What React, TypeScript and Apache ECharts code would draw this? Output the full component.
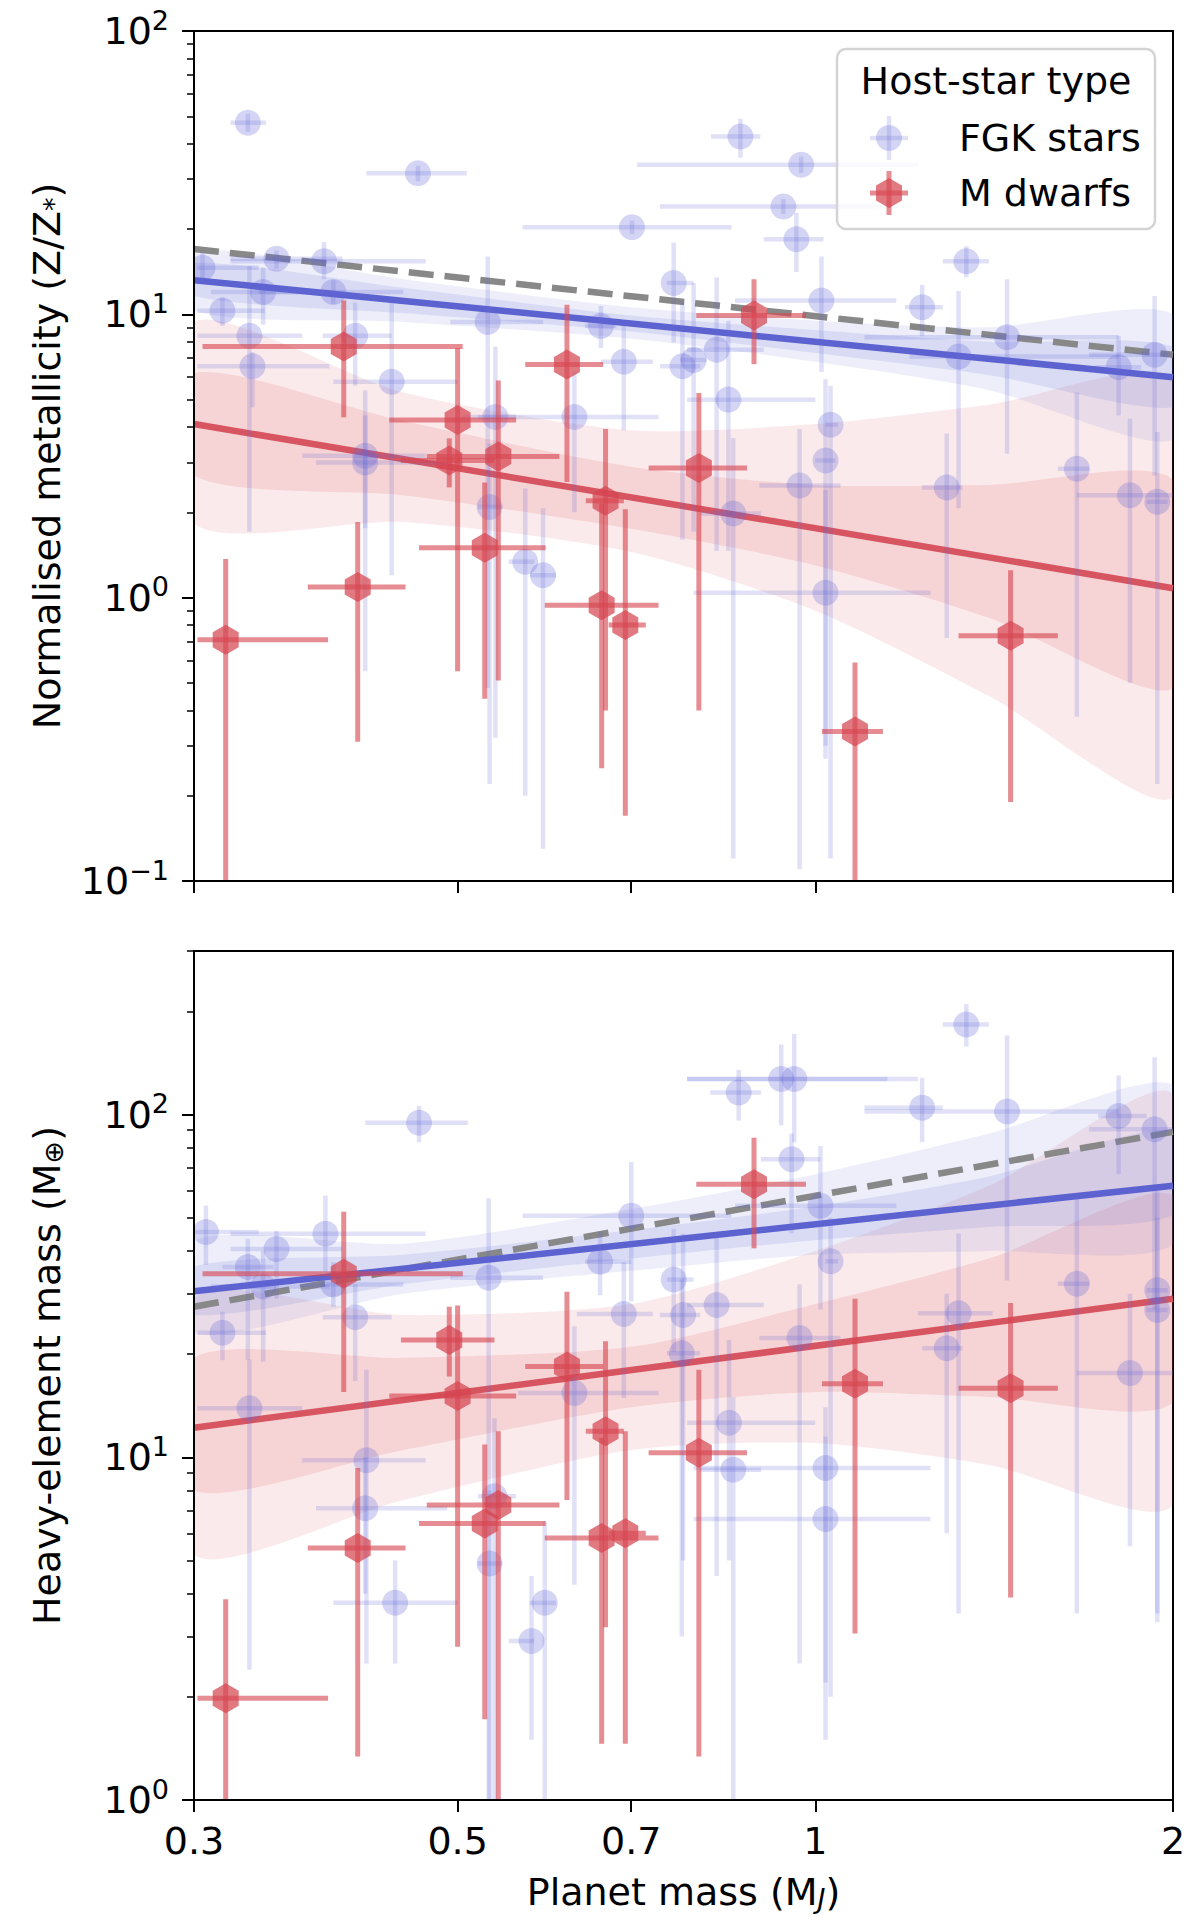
import React, { useEffect, useRef } from "react";
import * as echarts from "echarts";

const FONT = "DejaVu Sans";
const lg = (v: number) => Math.log10(v);

// axis ranges and ticks
const massRange = [0.3, 2];
const topRange = [0.1, 100];
const bottomRange = [1, 300];
const massTicks = [0.3, 0.5, 0.7, 1, 2];
const topDecades = [-1, 0, 1, 2];
const bottomDecades = [0, 1, 2];
const minorSteps = [2, 3, 4, 5, 6, 7, 8, 9];

// fitted power laws: values at mass 0.3 and mass 2
const fitMass = [0.3, 2];
const topFgkFit = [13.2, 6.0];
const topMdFit = [4.1, 1.08];
const topAllFit = [17, 7.2];
const bottomFgkFit = [30.5, 62];
const bottomMdFit = [12.2, 29];
const bottomAllFit = [27.5, 89];

// confidence bands
const bandMass = [0.3, 0.45, 0.7, 1.0, 1.4, 2.0];
const topFgkInnerLo = [11.6, 10.1, 8.7, 7.3, 6.1, 4.7];
const topFgkInnerHi = [15.2, 12.4, 9.9, 8.8, 8.0, 7.7];
const topFgkOuterLo = [10.3, 9.4, 8.2, 6.8, 5.4, 3.6];
const topFgkOuterHi = [16.8, 13.3, 10.6, 9.5, 9.0, 10.0];
const topMdInnerLo = [2.7, 2.3, 1.75, 1.3, 0.85, 0.48];
const topMdInnerHi = [6.2, 4.2, 2.9, 2.5, 2.5, 2.6];
const topMdOuterLo = [1.83, 1.85, 1.45, 0.9, 0.45, 0.2];
const topMdOuterHi = [9.4, 5.3, 3.9, 4.1, 4.8, 5.8];
const bottomFgkInnerLo = [26, 32, 38, 43, 47, 51];
const bottomFgkInnerHi = [36, 39, 46, 54, 66, 90];
const bottomFgkOuterLo = [23, 30, 35, 39, 40, 42];
const bottomFgkOuterHi = [43, 42, 53, 67, 88, 122];
const bottomMdInnerLo = [8, 10.5, 14, 15.5, 15, 14.5];
const bottomMdInnerHi = [19.5, 19.5, 21, 28, 38, 58];
const bottomMdOuterLo = [5.2, 7.5, 10.5, 11, 9.5, 7.3];
const bottomMdOuterHi = [29, 26, 28, 40, 62, 114];

// M dwarf planets: mass with error-bar ends
const mdMass = [0.319, 0.401, 0.412, 0.492, 0.5, 0.527, 0.541, 0.618, 0.661, 0.666, 0.692, 0.798, 0.888, 1.08, 1.46];
const mdMassLo = [0.302, 0.305, 0.374, 0.448, 0.438, 0.464, 0.471, 0.57, 0.592, 0.641, 0.67, 0.724, 0.794, 1.013, 1.32];
const mdMassHi = [0.389, 0.505, 0.452, 0.537, 0.56, 0.593, 0.609, 0.663, 0.738, 0.69, 0.72, 0.876, 0.982, 1.14, 1.6];
const mdZ = [0.71, 7.7, 1.09, 3.05, 4.24, 1.5, 3.15, 6.65, 0.94, 2.2, 0.8, 2.87, 9.9, 0.337, 0.734];
const mdZLo = [0.08, 4.33, 0.31, 2.45, 0.55, 0.44, 0.51, 2.56, 0.25, 0.4, 0.17, 0.4, 6.67, 0.08, 0.19];
const mdZHi = [1.37, 11.2, 1.85, 3.65, 7.6, 2.55, 5.84, 10.8, 2.15, 3.94, 2.05, 5.28, 13.3, 0.59, 1.25];
const mdMz = [1.98, 34.3, 5.44, 22.0, 15.1, 6.41, 7.26, 18.4, 5.81, 11.9, 6.0, 10.3, 62.6, 16.4, 15.9];
const mdMzLo = [0.8, 15.5, 1.34, 17.2, 2.8, 1.72, 0.9, 7.5, 1.46, 3.19, 1.46, 1.34, 40.7, 3.06, 3.9];
const mdMzHi = [3.85, 52, 9.3, 27.5, 27.7, 10.9, 11.9, 30.4, 11.4, 21.8, 11.9, 18, 85.6, 29, 28.2];

// FGK planets: [mass, massLo, massHi, value, valueLo, valueHi]
const fgkTop = [
  [0.333, 0.322, 0.345, 47.4, 44, 51],
  [0.463, 0.419, 0.509, 31.5, 29.5, 33.5],
  [0.865, 0.817, 0.899, 42.4, 35.7, 49],
  [0.973, 0.708, 1.22, 33.7, 31.5, 36],
  [0.701, 0.567, 0.85, 20.3, 19.2, 21.4],
  [0.94, 0.74, 1.17, 24, 22.6, 25.5],
  [0.964, 0.905, 1.016, 18.4, 14.1, 22.8],
  [1.34, 1.28, 1.4, 15.4, 13.5, 17.4],
  [0.305, 0.302, 0.34, 14.6, 13, 16.5],
  [0.352, 0.322, 0.4, 15.7, 14.5, 16.8],
  [0.386, 0.322, 0.47, 15.4, 13.3, 18],
  [0.343, 0.31, 0.39, 12.0, 9.2, 14.6],
  [0.393, 0.34, 0.45, 12.0, 10.9, 13.2],
  [0.317, 0.302, 0.344, 10.3, 9.1, 11.5],
  [0.334, 0.302, 0.37, 8.4, 1.71, 14.8],
  [0.336, 0.302, 0.39, 6.56, 4.7, 7.35],
  [0.41, 0.385, 0.44, 8.4, 5.6, 11],
  [0.44, 0.393, 0.5, 5.78, 1.2, 11.1],
  [0.418, 0.37, 0.47, 3.17, 0.55, 5.4],
  [0.418, 0.38, 0.49, 3.0, 1.76, 4.4],
  [0.53, 0.493, 0.59, 9.4, 0.48, 16],
  [0.538, 0.52, 0.56, 4.34, 0.32, 7.7],
  [0.532, 0.52, 0.545, 2.09, 0.22, 3.5],
  [0.627, 0.505, 0.738, 4.34, 2.0, 6.3],
  [0.57, 0.552, 0.58, 1.34, 0.2, 2.43],
  [0.59, 0.575, 0.605, 1.2, 0.13, 2.07],
  [0.66, 0.64, 0.68, 9.1, 7.6, 10.7],
  [0.69, 0.66, 0.73, 6.8, 3.9, 9.1],
  [0.76, 0.75, 0.79, 12.9, 7.95, 17.9],
  [0.773, 0.74, 0.8, 6.56, 1.6, 11.1],
  [0.79, 0.77, 0.81, 6.9, 1.71, 12.9],
  [0.826, 0.78, 0.905, 7.5, 1.46, 13.5],
  [0.845, 0.78, 1.0, 5.0, 1.46, 9.5],
  [0.853, 0.8, 0.9, 1.98, 0.12, 3.66],
  [1.012, 0.856, 1.17, 11.2, 6.26, 16],
  [1.03, 1.02, 1.045, 4.08, 0.12, 5.6],
  [1.02, 1.0, 1.04, 3.05, 0.3, 5.9],
  [0.97, 0.897, 1.05, 2.49, 0.11, 3.94],
  [1.02, 0.79, 1.25, 1.04, 0.27, 2.4],
  [1.23, 1.19, 1.28, 10.6, 8.4, 12.7],
  [1.32, 1.2, 1.8, 7.1, 2.07, 12.1],
  [1.29, 1.23, 1.33, 2.45, 0.72, 3.8],
  [1.45, 1.1, 1.8, 8.3, 3.22, 13.3],
  [1.66, 1.6, 1.7, 2.85, 0.38, 5.3],
  [1.8, 1.72, 1.88, 6.5, 4.4, 8.4],
  [1.84, 1.66, 2.0, 2.3, 0.5, 4.28],
  [1.93, 1.7, 2.0, 7.2, 2.7, 11.6],
  [1.94, 1.9, 1.98, 2.18, 0.22, 3.84],
];

const fgkBottom = [
  [1.34, 1.28, 1.4, 183, 158, 210],
  [0.862, 0.816, 0.9, 116, 96, 135],
  [0.936, 0.78, 1.15, 127, 93, 160],
  [0.96, 0.78, 1.22, 127, 83, 172],
  [1.23, 1.1, 1.28, 104.6, 83, 128],
  [1.45, 1.1, 1.8, 102, 32.8, 170],
  [1.8, 1.73, 1.9, 99, 67, 130],
  [1.93, 1.7, 2.0, 90.6, 27, 147],
  [0.464, 0.418, 0.51, 94.6, 83, 106],
  [0.955, 0.9, 1.01, 74, 45, 88],
  [1.01, 0.856, 1.17, 54.2, 27, 81],
  [0.7, 0.567, 0.85, 50.7, 28.5, 72.7],
  [0.307, 0.3, 0.34, 45.4, 36.4, 54.2],
  [0.387, 0.322, 0.47, 44.9, 34.8, 58],
  [0.352, 0.322, 0.4, 40.5, 29, 45.8],
  [0.333, 0.317, 0.35, 35.9, 19.2, 43.4],
  [0.343, 0.31, 0.39, 31.5, 19, 40],
  [0.393, 0.368, 0.45, 31.9, 27.5, 37.1],
  [0.531, 0.493, 0.59, 33.4, 1.0, 57],
  [0.659, 0.64, 0.7, 37.2, 29.7, 45.5],
  [1.03, 1.02, 1.045, 37.3, 2, 50],
  [0.76, 0.75, 0.79, 33, 20.3, 46.4],
  [1.66, 1.6, 1.7, 32.1, 3.5, 58],
  [0.317, 0.302, 0.345, 23.1, 19.2, 26.6],
  [0.41, 0.385, 0.44, 25.6, 16.7, 32],
  [0.69, 0.63, 0.73, 26.2, 14.9, 37.1],
  [0.774, 0.74, 0.8, 26.0, 5, 45],
  [0.826, 0.78, 0.905, 27.8, 4.5, 45],
  [0.772, 0.75, 0.8, 20.1, 3, 33],
  [0.97, 0.897, 1.05, 22.3, 2.5, 32],
  [1.29, 1.23, 1.33, 20.8, 6, 30],
  [1.32, 1.22, 1.41, 26.3, 3.5, 45],
  [1.94, 1.9, 1.98, 30.7, 3.5, 60],
  [1.94, 1.9, 1.98, 26.9, 3.3, 50],
  [1.84, 1.66, 2.0, 17.6, 5.5, 30],
  [0.334, 0.302, 0.37, 13.9, 2.4, 19.3],
  [0.627, 0.562, 0.738, 15.4, 4.25, 24.1],
  [0.846, 0.78, 1.0, 12.6, 5, 22],
  [0.853, 0.8, 0.9, 9.2, 1.0, 15],
  [1.02, 0.79, 1.25, 9.3, 2.2, 14],
  [1.02, 0.79, 1.25, 6.6, 1.5, 11.5],
  [0.419, 0.37, 0.47, 9.8, 2.5, 18],
  [0.418, 0.38, 0.49, 7.1, 4, 10],
  [0.537, 0.52, 0.56, 7.7, 1.0, 13],
  [0.532, 0.52, 0.545, 4.9, 1.0, 8],
  [0.443, 0.393, 0.5, 3.76, 2.5, 5],
  [0.592, 0.575, 0.605, 3.76, 1.0, 6.5],
  [0.577, 0.552, 0.58, 2.91, 1.5, 4.5],
];

const FGK_FILL = "rgba(100,105,215,0.28)";
const FGK_BAR = "rgba(100,105,215,0.2)";
const MD_FILL = "rgba(214,69,80,0.72)";
const MD_BAR = "rgba(214,69,80,0.62)";
const BLUE = "#5c62cf";
const RED = "#d65560";
const GREY = "#888888";

const hexPoints = (cx: number, cy: number, r: number) =>
  [0, 1, 2, 3, 4, 5].map((k) => {
    const a = ((-90 + 60 * k) * Math.PI) / 180;
    return [cx + r * Math.cos(a), cy + r * Math.sin(a)];
  });

const bandSeries = (lo: number[], hi: number[], xi: number, yi: number, fill: string) => ({
  type: "custom",
  xAxisIndex: xi,
  yAxisIndex: yi,
  clip: true,
  silent: true,
  z: 1,
  data: bandMass.map((m, i) => [lg(m), lg(lo[i]), lg(hi[i])]),
  renderItem: (params: any, api: any) => {
    if (params.dataIndex !== 0) return null;
    const upper = bandMass.map((m, i) => api.coord([lg(m), lg(hi[i])]));
    const lower = bandMass.map((m, i) => api.coord([lg(m), lg(lo[i])])).reverse();
    return {
      type: "polygon",
      shape: { points: [...upper, ...lower], smooth: 0.25 },
      style: { fill },
    };
  },
});

const fitSeries = (ends: number[], xi: number, yi: number, color: string, dashed = false) => ({
  type: "line",
  xAxisIndex: xi,
  yAxisIndex: yi,
  z: 3,
  silent: true,
  showSymbol: false,
  data: fitMass.map((m, i) => [lg(m), lg(ends[i])]),
  lineStyle: { color, width: 6.5, type: dashed ? [25, 11] : "solid" },
});

const pointSeries = (rows: number[][], xi: number, yi: number, kind: "fgk" | "md") => ({
  type: "custom",
  xAxisIndex: xi,
  yAxisIndex: yi,
  clip: true,
  silent: true,
  z: kind === "md" ? 5 : 4,
  data: rows.map((r) => r.map(lg)),
  renderItem: (params: any, api: any) => {
    const c = api.coord([api.value(0), api.value(3)]);
    const a = api.coord([api.value(1), api.value(3)]);
    const b = api.coord([api.value(2), api.value(3)]);
    const d = api.coord([api.value(0), api.value(4)]);
    const e = api.coord([api.value(0), api.value(5)]);
    const bar = kind === "md" ? MD_BAR : FGK_BAR;
    const w = kind === "md" ? 5 : 4.5;
    const marker =
      kind === "md"
        ? { type: "polygon", shape: { points: hexPoints(c[0], c[1], 15) }, style: { fill: MD_FILL } }
        : { type: "circle", shape: { cx: c[0], cy: c[1], r: 13 }, style: { fill: FGK_FILL } };
    return {
      type: "group",
      children: [
        marker,
        { type: "line", shape: { x1: a[0], y1: a[1], x2: b[0], y2: b[1] }, style: { stroke: bar, lineWidth: w } },
        { type: "line", shape: { x1: d[0], y1: d[1], x2: e[0], y2: e[1] }, style: { stroke: bar, lineWidth: w } },
      ],
    };
  },
});

const supLabel = (v: number) => {
  const n = Math.round(v);
  return `{b|10}{s|${n < 0 ? "\u2212" + Math.abs(n) : n}}`;
};

const labelRich = {
  b: { fontSize: 38, fontFamily: FONT, color: "#000" },
  s: { fontSize: 27, fontFamily: FONT, color: "#000", padding: [0, 0, 22, 0] },
};

const nameStyle = {
  fontSize: 38,
  fontFamily: FONT,
  color: "#000",
  rich: {
    sub: { fontSize: 27, fontFamily: FONT, color: "#000", padding: [14, 0, 0, 0] },
    subi: { fontSize: 27, fontFamily: FONT, color: "#000", fontStyle: "italic", padding: [14, 0, 0, 0] },
  },
};

const majorY = (gi: number, range: number[], decades: number[], name: string) => ({
  type: "value",
  gridIndex: gi,
  position: "left",
  min: lg(range[0]),
  max: lg(range[1]),
  z: 10,
  axisLine: { show: true, onZero: false, lineStyle: { color: "#000", width: 2 } },
  axisTick: { show: true, length: 12, lineStyle: { color: "#000", width: 2 }, customValues: decades },
  axisLabel: { customValues: decades, formatter: supLabel, rich: labelRich, margin: 25 },
  splitLine: { show: false },
  name,
  nameLocation: "middle",
  nameGap: 127,
  nameTextStyle: nameStyle,
});

const minorY = (gi: number, range: number[], decades: number[]) => ({
  type: "value",
  gridIndex: gi,
  position: "left",
  offset: 0,
  min: lg(range[0]),
  max: lg(range[1]),
  z: 10,
  axisLine: { show: false, onZero: false },
  axisTick: {
    show: true,
    length: 7,
    lineStyle: { color: "#000", width: 1.5 },
    customValues: decades
      .flatMap((d) => minorSteps.map((s) => d + lg(s)))
      .filter((v) => v <= lg(range[1]) + 1e-9),
  },
  axisLabel: { show: false },
  splitLine: { show: false },
});

const xAxisOf = (gi: number, labelled: boolean) => ({
  type: "value",
  gridIndex: gi,
  position: "bottom",
  min: lg(massRange[0]),
  max: lg(massRange[1]),
  z: 10,
  axisLine: { show: true, onZero: false, lineStyle: { color: "#000", width: 2 } },
  axisTick: { show: true, length: 12, lineStyle: { color: "#000", width: 2 }, customValues: massTicks.map(lg) },
  axisLabel: labelled
    ? {
        customValues: massTicks.map(lg),
        formatter: (v: number) => String(Number(Math.pow(10, v).toPrecision(3))),
        fontSize: 38,
        fontFamily: FONT,
        color: "#000",
        margin: 22,
      }
    : { show: false },
  splitLine: { show: false },
  name: labelled ? "Planet mass (M{subi|J})" : "",
  nameLocation: "middle",
  nameGap: 71,
  nameTextStyle: nameStyle,
});

const mdRows = (v: number[], lo: number[], hi: number[]) =>
  mdMass.map((m, i) => [m, mdMassLo[i], mdMassHi[i], v[i], lo[i], hi[i]]);

const legendGraphic = () => {
  const fgkX = 889, fgkY = 138, mdY = 193;
  return [
    {
      type: "rect",
      shape: { x: 837, y: 49, width: 318, height: 180, r: 9 },
      style: { fill: "rgba(255,255,255,0.8)", stroke: "#d4d4d4", lineWidth: 2.5 },
      z: 20,
    },
    {
      type: "text",
      x: 996,
      y: 81,
      style: { text: "Host-star type", fontSize: 38, fontFamily: FONT, fill: "#000", align: "center", verticalAlign: "middle" },
      z: 21,
    },
    { type: "circle", shape: { cx: fgkX, cy: fgkY, r: 13 }, style: { fill: FGK_FILL }, z: 21 },
    { type: "line", shape: { x1: fgkX - 19, y1: fgkY, x2: fgkX + 19, y2: fgkY }, style: { stroke: FGK_BAR, lineWidth: 4.5 }, z: 21 },
    { type: "line", shape: { x1: fgkX, y1: fgkY - 22, x2: fgkX, y2: fgkY + 22 }, style: { stroke: FGK_BAR, lineWidth: 4.5 }, z: 21 },
    {
      type: "text",
      x: 959,
      y: fgkY,
      style: { text: "FGK stars", fontSize: 38, fontFamily: FONT, fill: "#000", align: "left", verticalAlign: "middle" },
      z: 21,
    },
    { type: "polygon", shape: { points: hexPoints(fgkX, mdY, 15) }, style: { fill: MD_FILL }, z: 21 },
    { type: "line", shape: { x1: fgkX - 19, y1: mdY, x2: fgkX + 19, y2: mdY }, style: { stroke: MD_BAR, lineWidth: 5 }, z: 21 },
    { type: "line", shape: { x1: fgkX, y1: mdY - 22, x2: fgkX, y2: mdY + 22 }, style: { stroke: MD_BAR, lineWidth: 5 }, z: 21 },
    {
      type: "text",
      x: 959,
      y: mdY,
      style: { text: "M dwarfs", fontSize: 38, fontFamily: FONT, fill: "#000", align: "left", verticalAlign: "middle" },
      z: 21,
    },
  ];
};

const App = () => {
  const chartRef = useRef<HTMLDivElement>(null);

  useEffect(() => {
    const chart = echarts.init(chartRef.current!, null, { renderer: "svg" });
    const option: any = {
      animation: false,
      backgroundColor: "#fff",
      textStyle: { fontFamily: FONT },
      grid: [
        { left: 194, top: 31, width: 979, height: 850, show: true, borderColor: "#000", borderWidth: 2 },
        { left: 194, top: 951, width: 979, height: 849, show: true, borderColor: "#000", borderWidth: 2 },
      ],
      xAxis: [xAxisOf(0, false), xAxisOf(1, true)],
      yAxis: [
        majorY(0, topRange, topDecades, "Normalised metallicity (Z/Z{sub|*})"),
        minorY(0, topRange, topDecades),
        majorY(1, bottomRange, bottomDecades, "Heavy-element mass (M{sub|\u2295})"),
        minorY(1, bottomRange, bottomDecades),
      ],
      series: [
        bandSeries(topMdOuterLo, topMdOuterHi, 0, 0, "rgba(220,80,90,0.12)"),
        bandSeries(topMdInnerLo, topMdInnerHi, 0, 0, "rgba(220,80,90,0.15)"),
        bandSeries(topFgkOuterLo, topFgkOuterHi, 0, 0, "rgba(110,115,215,0.12)"),
        bandSeries(topFgkInnerLo, topFgkInnerHi, 0, 0, "rgba(110,115,215,0.15)"),
        fitSeries(topAllFit, 0, 0, GREY, true),
        fitSeries(topFgkFit, 0, 0, BLUE),
        fitSeries(topMdFit, 0, 0, RED),
        pointSeries(fgkTop, 0, 0, "fgk"),
        pointSeries(mdRows(mdZ, mdZLo, mdZHi), 0, 0, "md"),

        bandSeries(bottomMdOuterLo, bottomMdOuterHi, 1, 2, "rgba(220,80,90,0.12)"),
        bandSeries(bottomMdInnerLo, bottomMdInnerHi, 1, 2, "rgba(220,80,90,0.15)"),
        bandSeries(bottomFgkOuterLo, bottomFgkOuterHi, 1, 2, "rgba(110,115,215,0.12)"),
        bandSeries(bottomFgkInnerLo, bottomFgkInnerHi, 1, 2, "rgba(110,115,215,0.15)"),
        fitSeries(bottomAllFit, 1, 2, GREY, true),
        fitSeries(bottomFgkFit, 1, 2, BLUE),
        fitSeries(bottomMdFit, 1, 2, RED),
        pointSeries(fgkBottom, 1, 2, "fgk"),
        pointSeries(mdRows(mdMz, mdMzLo, mdMzHi), 1, 2, "md"),
      ],
      graphic: legendGraphic(),
    };
    chart.setOption(option);
    return () => {
      chart.dispose();
    };
  }, []);

  return (
    <div
      ref={chartRef}
      style={{ position: "absolute", left: 0, top: 0, width: 1200, height: 1925 }}
    ></div>
  );
};

export default App;
